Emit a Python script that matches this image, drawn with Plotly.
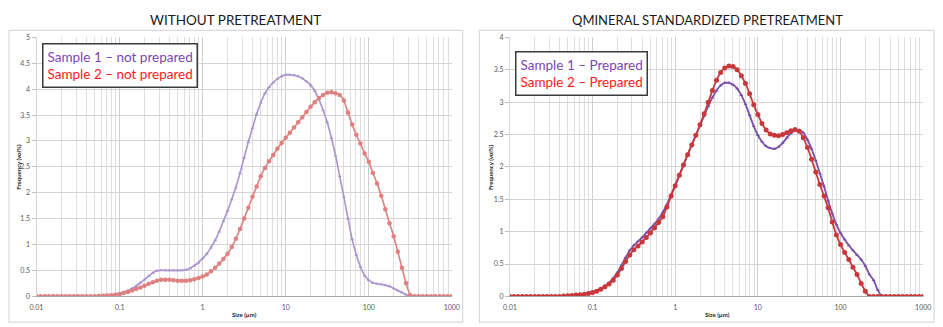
import plotly.graph_objects as go

# Particle size classes (µm), 20 classes per decade from 0.01 to 1000
sizes = [
    0.01, 0.01122, 0.01259, 0.01413, 0.01585, 0.01778, 0.01995, 0.02239, 0.02512, 0.02818,
    0.03162, 0.03548, 0.03981, 0.04467, 0.05012, 0.05623, 0.0631, 0.07079, 0.07943, 0.08913,
    0.1, 0.1122, 0.1259, 0.1413, 0.1585, 0.1778, 0.1995, 0.2239, 0.2512, 0.2818,
    0.3162, 0.3548, 0.3981, 0.4467, 0.5012, 0.5623, 0.631, 0.7079, 0.7943, 0.8913,
    1.0, 1.122, 1.259, 1.413, 1.585, 1.778, 1.995, 2.239, 2.512, 2.818,
    3.162, 3.548, 3.981, 4.467, 5.012, 5.623, 6.31, 7.079, 7.943, 8.913,
    10.0, 11.22, 12.59, 14.13, 15.85, 17.78, 19.95, 22.39, 25.12, 28.18,
    31.62, 35.48, 39.81, 44.67, 50.12, 56.23, 63.1, 70.79, 79.43, 89.13,
    100.0, 112.2, 125.9, 141.3, 158.5, 177.8, 199.5, 223.9, 251.2, 281.8,
    316.2, 354.8, 398.1, 446.7, 501.2, 562.3, 631.0, 707.9, 794.3, 891.3,
    1000.0,
]

# Without pretreatment (vol%)
raw_sample1 = [
    0, 0, 0, 0, 0, 0, 0, 0, 0, 0, 0, 0, 0, 0,
    0.0, 0.005, 0.01, 0.02, 0.03, 0.04, 0.06, 0.08, 0.11, 0.15,
    0.20, 0.26, 0.32, 0.39, 0.45, 0.49, 0.50, 0.50, 0.50, 0.50,
    0.50, 0.50, 0.51, 0.54, 0.59, 0.65, 0.73, 0.82, 0.94, 1.08,
    1.25, 1.45, 1.65, 1.87, 2.10, 2.38, 2.68, 2.98, 3.25, 3.52,
    3.74, 3.92, 4.04, 4.13, 4.20, 4.25, 4.28, 4.28, 4.27, 4.25,
    4.21, 4.15, 4.08, 3.97, 3.80, 3.60, 3.36, 3.06, 2.72, 2.32,
    1.92, 1.50, 1.10, 0.80, 0.57, 0.40, 0.31, 0.26, 0.24, 0.23,
    0.21, 0.19, 0.15, 0.11, 0.07, 0.03, 0.0,
    0, 0, 0, 0, 0, 0, 0, 0, 0, 0,
]
raw_sample2 = [
    0, 0, 0, 0, 0, 0, 0, 0, 0, 0, 0, 0, 0, 0,
    0.0, 0.005, 0.01, 0.015, 0.02, 0.03, 0.04, 0.06, 0.08, 0.11,
    0.14, 0.17, 0.20, 0.24, 0.27, 0.30, 0.32, 0.32, 0.32, 0.31,
    0.30, 0.30, 0.30, 0.31, 0.33, 0.35, 0.38, 0.42, 0.48, 0.55,
    0.63, 0.72, 0.82, 0.95, 1.11, 1.30, 1.50, 1.71, 1.92, 2.12,
    2.32, 2.48, 2.61, 2.73, 2.85, 2.96, 3.06, 3.16, 3.26, 3.36,
    3.46, 3.56, 3.66, 3.75, 3.83, 3.89, 3.93, 3.94, 3.92, 3.89,
    3.78, 3.55, 3.32, 3.12, 2.95, 2.76, 2.60, 2.38, 2.18, 1.94,
    1.68, 1.41, 1.16, 0.86, 0.55, 0.25, 0.02,
    0, 0, 0, 0, 0, 0, 0, 0, 0, 0,
]

# Qmineral standardized pretreatment (vol%)
prep_sample1 = [
    0, 0, 0, 0, 0, 0, 0, 0, 0, 0, 0, 0, 0,
    0.005, 0.01, 0.015, 0.02, 0.03, 0.04, 0.055, 0.07, 0.09, 0.12,
    0.16, 0.21, 0.28, 0.37, 0.48, 0.60, 0.71, 0.79, 0.85, 0.91,
    0.98, 1.05, 1.12, 1.20, 1.30, 1.42, 1.57, 1.72, 1.87, 2.03,
    2.19, 2.34, 2.49, 2.64, 2.79, 2.94, 3.07, 3.18, 3.26, 3.30,
    3.30, 3.27, 3.21, 3.11, 2.97, 2.80, 2.63, 2.49, 2.39, 2.32,
    2.29, 2.28, 2.31, 2.37, 2.45, 2.52, 2.56, 2.57, 2.53, 2.42,
    2.28, 2.10, 1.90, 1.70, 1.48, 1.28, 1.11, 0.98, 0.88, 0.79,
    0.71, 0.64, 0.57, 0.47, 0.34, 0.25, 0.10, 0.0,
    0, 0, 0, 0, 0, 0, 0, 0, 0, 0,
]
prep_sample2 = [
    0, 0, 0, 0, 0, 0, 0, 0, 0, 0, 0, 0, 0,
    0.005, 0.01, 0.015, 0.02, 0.025, 0.035, 0.045, 0.06, 0.08, 0.11,
    0.15, 0.19, 0.25, 0.33, 0.43, 0.54, 0.64, 0.72, 0.78, 0.84,
    0.91, 0.98, 1.06, 1.14, 1.23, 1.38, 1.55, 1.71, 1.87, 2.03,
    2.19, 2.34, 2.49, 2.65, 2.82, 3.00, 3.18, 3.34, 3.46, 3.53,
    3.56, 3.55, 3.50, 3.41, 3.29, 3.13, 2.96, 2.81, 2.67, 2.57,
    2.51, 2.49, 2.48, 2.50, 2.53, 2.56, 2.58, 2.55, 2.45, 2.30,
    2.12, 1.92, 1.73, 1.55, 1.37, 1.15, 0.95, 0.80, 0.68, 0.57,
    0.45, 0.34, 0.20, 0.08, 0.0,
    0, 0, 0, 0, 0, 0, 0, 0, 0, 0, 0, 0, 0,
]

titles = ["WITHOUT PRETREATMENT", "QMINERAL STANDARDIZED PRETREATMENT"]
legend_lines = [
    ("Sample 1 – not prepared", "Sample 2 – not prepared"),
    ("Sample 1 – Prepared", "Sample 2 – Prepared"),
]
x_ticks = [0.01, 0.1, 1, 10, 100, 1000]
x_ticklabels = ["0.01", "0.1", "1", "10", "100", "1000"]

W, H = 943, 327
FONT = "Lato, 'Open Sans', sans-serif"
LBL = "#595959"

fig = go.Figure()


def add_series(y, xa, ya, color, symbol, msize, width):
    fig.add_trace(go.Scatter(
        x=sizes, y=y, xaxis=xa, yaxis=ya, mode="lines+markers",
        line=dict(color=color, width=width, shape="spline", smoothing=0.6),
        marker=dict(color=color, size=msize, symbol=symbol),
        showlegend=False, hoverinfo="x+y",
    ))


add_series(raw_sample1, "x", "y", "#a994cf", "triangle-up", 3.5, 1.6)
add_series(raw_sample2, "x", "y", "#e07f7f", "circle", 4.5, 1.6)
add_series(prep_sample1, "x2", "y2", "#7a4fa8", "triangle-up", 3.5, 1.8)
add_series(prep_sample2, "x2", "y2", "#c8383b", "circle", 5, 1.8)


def px_x(p):
    return p / W


def px_y(p):
    return 1 - p / H


def xaxis_cfg(l, r):
    return dict(
        type="log", domain=[px_x(l), px_x(r)], range=[-2, 3],
        tickvals=x_ticks, ticktext=x_ticklabels,
        tickfont=dict(family=FONT, size=7, color=LBL),
        ticklabelstandoff=4,
        showgrid=True, gridcolor="#cfcfcf", gridwidth=1,
        minor=dict(dtick="D1", showgrid=True, gridcolor="#dedede", gridwidth=1, ticks=""),
        showline=True, linecolor="#a6a6a6", linewidth=1,
        ticks="", zeroline=False, fixedrange=True,
    )


def yaxis_cfg(t, b, top, anchor):
    return dict(
        domain=[px_y(b), px_y(t)], range=[0, top], dtick=0.5, anchor=anchor,
        tickfont=dict(family=FONT, size=7, color=LBL),
        tickformat="~g",
        showgrid=True, gridcolor="#d4d4d4", gridwidth=1,
        showline=True, linecolor="#d4d4d4", linewidth=1,
        ticks="outside", ticklen=4, tickcolor="#bfbfbf",
        zeroline=False, fixedrange=True,
    )


fig.update_layout(
    width=W, height=H,
    margin=dict(l=0, r=0, t=0, b=0),
    paper_bgcolor="white", plot_bgcolor="white",
    xaxis=dict(**xaxis_cfg(30, 452), anchor="y"),
    yaxis=yaxis_cfg(33.3, 298.5, 5, "x"),
    xaxis2=dict(**xaxis_cfg(511, 931), anchor="y2"),
    yaxis2=yaxis_cfg(33.3, 298.7, 4, "x2"),
)

# chart frames
for x0, x1 in [(2, 463), (480, 942)]:
    fig.add_shape(type="rect", xref="paper", yref="paper",
                  x0=px_x(x0), x1=px_x(x1), y0=px_y(325), y1=px_y(26),
                  line=dict(color="#d9d9d9", width=1.2), layer="below")

annotations = []
for cx, text, fs in [(232, titles[0], 13.5), (712, titles[1], 13)]:
    annotations.append(dict(
        x=px_x(cx), y=px_y(15), xref="paper", yref="paper", text=text,
        showarrow=False, xanchor="center", yanchor="middle",
        font=dict(family=FONT, size=fs, color="#1a1a1a"),
    ))

# axis titles
for cx in [241, 722]:
    annotations.append(dict(
        x=px_x(cx), y=px_y(317), xref="paper", yref="paper", text="<b>Size (µm)</b>",
        showarrow=False, xanchor="center", yanchor="middle",
        font=dict(family=FONT, size=6, color="#262626"),
    ))
for cx in [12, 492]:
    annotations.append(dict(
        x=px_x(cx), y=px_y(166), xref="paper", yref="paper",
        text="<b>Frequency (vol%)</b>", textangle=-90,
        showarrow=False, xanchor="center", yanchor="middle",
        font=dict(family=FONT, size=6, color="#262626"),
    ))

# sample key boxes
for (lx, ty), (l1, l2) in zip([(36, 39), (516, 47)], legend_lines):
    annotations.append(dict(
        x=px_x(lx), y=px_y(ty), xref="paper", yref="paper",
        text=f"<span style='color:#7b45b5'>{l1}</span><br>"
             f"<span style='color:#ff1a1a'>{l2}</span>",
        showarrow=False, xanchor="left", yanchor="top", align="left",
        font=dict(family=FONT, size=13.5),
        bgcolor="white", bordercolor="#3a3a3a", borderwidth=1.5, borderpad=4,
    ))

fig.update_layout(annotations=annotations)

fig.write_html("out.html")
